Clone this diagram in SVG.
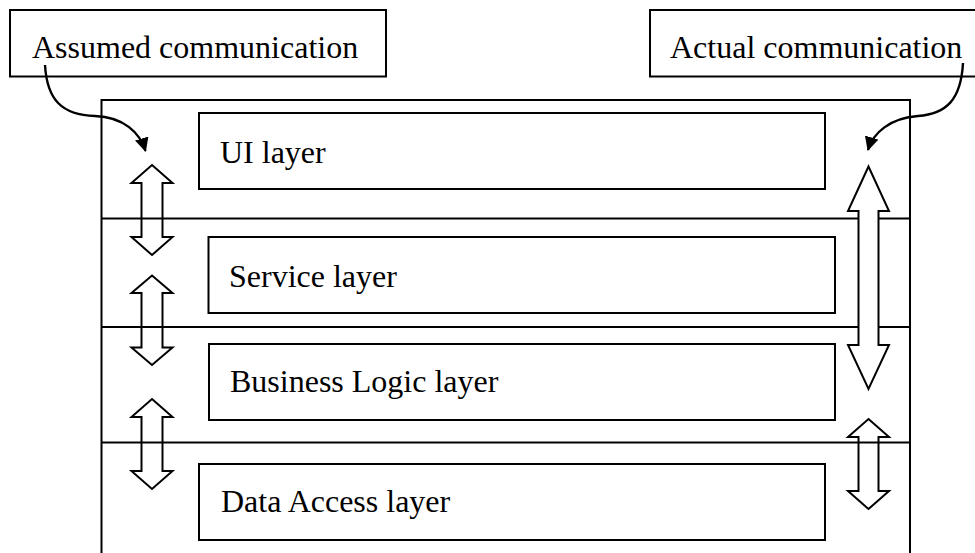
<svg xmlns="http://www.w3.org/2000/svg" width="975" height="553" viewBox="0 0 975 553">
  <style>
    .box { fill: #fff; stroke: #000; stroke-width: 2; }
    .sep { stroke: #000; stroke-width: 1.8; fill: none; }
    .lbl { font-family: "Liberation Serif", "Times New Roman", serif; font-size: 32px; fill: #000; }
    .dbl { fill: none; stroke: #000; stroke-width: 2; stroke-linejoin: miter; }
    .dbl-solid { fill: #fff; stroke: #000; stroke-width: 2; stroke-linejoin: miter; }
    .curve { fill: none; stroke: #000; stroke-width: 2.4; }
  </style>
  <defs>
    <marker id="head" viewBox="0 0 10 10" refX="9" refY="5" markerWidth="6" markerHeight="6" markerUnits="userSpaceOnUse" orient="auto">
      <path d="M0,0 L10,5 L0,10 Z" fill="#000"/>
    </marker>
    <marker id="tip" viewBox="0 0 14 14" refX="13" refY="7" markerWidth="14" markerHeight="14" markerUnits="userSpaceOnUse" orient="auto">
      <path d="M0,0 L14,7 L0,14 Z" fill="#000"/>
    </marker>
  </defs>

  <!-- layer stack frame -->
  <g id="stack">
    <rect class="box" x="101.5" y="100" width="808.5" height="470"/>
    <line class="sep" x1="101.5" y1="218.5" x2="910" y2="218.5"/>
    <line class="sep" x1="101.5" y1="327" x2="910" y2="327"/>
    <line class="sep" x1="101.5" y1="442.5" x2="910" y2="442.5"/>
  </g>

  <g id="ui-layer">
    <rect class="box" x="199" y="113" width="626" height="76"/>
    <text class="lbl" x="220" y="163">UI layer</text>
  </g>
  <g id="service-layer">
    <rect class="box" x="208.5" y="237" width="626.5" height="76"/>
    <text class="lbl" x="229" y="287">Service layer</text>
  </g>
  <g id="business-layer">
    <rect class="box" x="209" y="344" width="626" height="76"/>
    <text class="lbl" x="230" y="392">Business Logic layer</text>
  </g>
  <g id="data-layer">
    <rect class="box" x="199" y="464" width="626" height="76"/>
    <text class="lbl" x="221" y="512">Data Access layer</text>
  </g>

  <g id="assumed-label">
    <rect class="box" x="10" y="10" width="376" height="66.5"/>
    <text class="lbl" x="32" y="58">Assumed communication</text>
  </g>
  <g id="actual-label">
    <rect class="box" x="650" y="10" width="335" height="66.5"/>
    <text class="lbl" x="670" y="58">Actual communication</text>
  </g>

  <g id="connectors">
    <!-- pointers from the labels -->
    <path class="curve" d="M45,65 C47,100 62,115 95,116 C124,117 140,133 145.5,151" marker-end="url(#tip)"/>
    <path class="curve" d="M963,63 C961,100 946,114 918,116 C890,118 873,133 868,150" marker-end="url(#tip)"/>

    <!-- assumed: layer-to-layer double arrows -->
    <polygon class="dbl" points="152,165 172.5,183 162.5,183 162.5,237 172.5,237 152,255 131.5,237 141.5,237 141.5,183 131.5,183"/>
    <polygon class="dbl" points="152,275.5 172.5,293 162.5,293 162.5,347.5 172.5,347.5 152,365 131.5,347.5 141.5,347.5 141.5,293 131.5,293"/>
    <polygon class="dbl" points="152,399 172.5,417 162.5,417 162.5,471 172.5,471 152,489 131.5,471 141.5,471 141.5,417 131.5,417"/>

    <!-- actual: UI straight to business logic, then to data access -->
    <polygon class="dbl-solid" points="868.5,166.5 889,211 878.5,211 878.5,345 889,345 868.5,389 848,345 858.5,345 858.5,211 848,211"/>
    <polygon class="dbl" points="868.5,419 889,437 878.5,437 878.5,491 889,491 868.5,509 848,491 858.5,491 858.5,437 848,437"/>
  </g>
</svg>
